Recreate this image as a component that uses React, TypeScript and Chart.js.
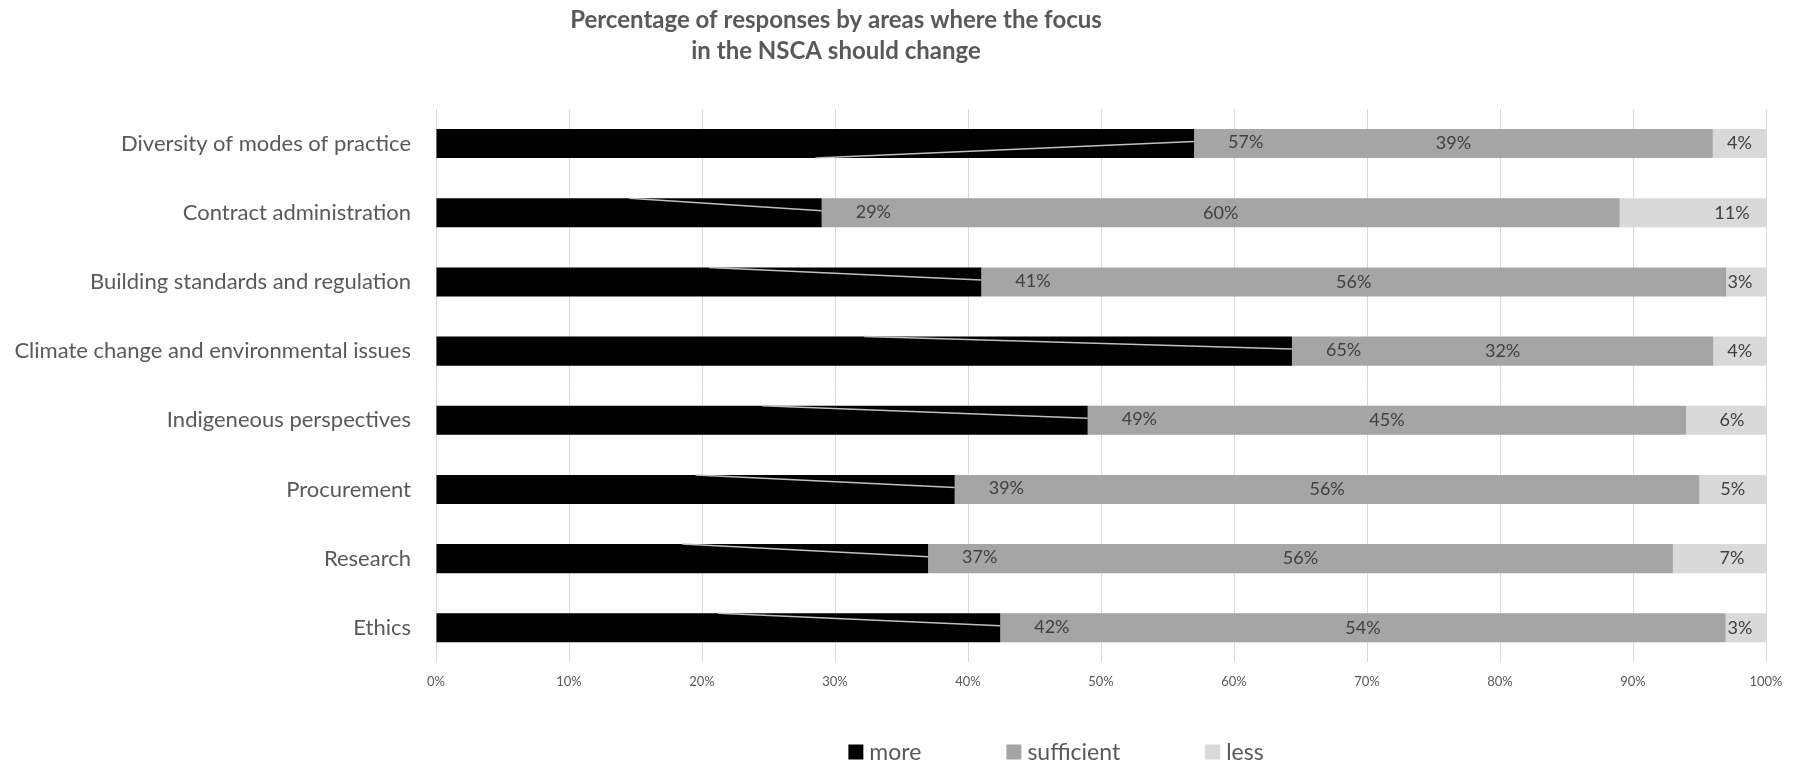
import React, { useEffect, useRef } from "react";
import { Chart, registerables } from "chart.js";

Chart.register(...registerables);

// Survey areas, top to bottom
const categories = [
  "Diversity of modes of practice",
  "Contract administration",
  "Building standards and regulation",
  "Climate change and environmental issues",
  "Indigeneous perspectives",
  "Procurement",
  "Research",
  "Ethics",
];

// Share of responses (%) per area
const moreValues = [57, 29, 41, 65, 49, 39, 37, 42];
const sufficientValues = [39, 60, 56, 32, 45, 56, 56, 54];
const lessValues = [4, 11, 3, 4, 6, 5, 7, 3];

const seriesLabels = ["more", "sufficient", "less"];
const seriesColors = ["#000000", "#A5A5A5", "#D9D9D9"];

const titleLines = [
  "Percentage of responses by areas where the focus",
  "in the NSCA should change",
];

const xTickStep = 10;

// Leader lines of the "more" labels end on the bar's top edge, except the first row
const leaderToBottom = [true, false, false, false, false, false, false, false];

const FONT = "Lato, 'Open Sans', sans-serif";
const TEXT = "#595959";
const LABEL = "#404040";
const GRID = "#D9D9D9";

const W = 1796;
const H = 763;

const titlePlugin = {
  id: "chartTitle",
  afterDraw(chart: any) {
    const { ctx } = chart;
    ctx.save();
    ctx.font = `bold 24px ${FONT}`;
    ctx.fillStyle = TEXT;
    ctx.textAlign = "center";
    ctx.textBaseline = "middle";
    titleLines.forEach((line, i) => ctx.fillText(line, 836, 20 + i * 31));
    ctx.restore();
  },
};

const valueLabelPlugin = {
  id: "valueLabels",
  afterDatasetsDraw(chart: any) {
    const { ctx } = chart;
    const raw = [moreValues, sufficientValues, lessValues];
    ctx.save();
    ctx.font = `18px ${FONT}`;
    ctx.fillStyle = LABEL;
    ctx.textBaseline = "middle";
    categories.forEach((_, i) => {
      const more = chart.getDatasetMeta(0).data[i] as any;
      const suff = chart.getDatasetMeta(1).data[i] as any;
      const less = chart.getDatasetMeta(2).data[i] as any;

      // "more": label sits past the bar end with a leader line back to the segment
      const mid = (more.x + more.base) / 2;
      const edge = leaderToBottom[i] ? more.y + more.height / 2 : more.y - more.height / 2;
      ctx.save();
      ctx.strokeStyle = "#BFBFBF";
      ctx.lineWidth = 1.5;
      ctx.beginPath();
      ctx.moveTo(more.x, more.y - 2);
      ctx.lineTo(mid, edge);
      ctx.stroke();
      ctx.restore();
      ctx.textAlign = "left";
      ctx.fillText(`${raw[0][i]}%`, more.x + 34, more.y - 1);

      // "sufficient": centred in its segment
      ctx.textAlign = "center";
      ctx.fillText(`${raw[1][i]}%`, (suff.x + suff.base) / 2, suff.y);

      // "less": near the end of the bar
      const c = (less.x + less.base) / 2;
      const lx = Math.min(Math.max(c, less.x - 34), less.x - 26);
      ctx.fillText(`${raw[2][i]}%`, lx, less.y);
    });
    ctx.restore();
  },
};

const legendPlugin = {
  id: "bottomLegend",
  afterDraw(chart: any) {
    const { ctx } = chart;
    const box = 15;
    const gap = 6;
    const spacing = 85;
    ctx.save();
    ctx.font = `23px ${FONT}`;
    ctx.textBaseline = "middle";
    ctx.textAlign = "left";
    const items = chart.data.datasets.map((ds: any) => ({
      text: ds.label,
      color: ds.backgroundColor,
      w: box + gap + ctx.measureText(ds.label).width,
    }));
    const total = items.reduce((s: number, it: any) => s + it.w, 0) + spacing * (items.length - 1);
    let x = 1056 - total / 2;
    const cy = 752;
    items.forEach((it: any) => {
      ctx.fillStyle = it.color;
      ctx.fillRect(x, cy - box / 2, box, box);
      ctx.fillStyle = TEXT;
      ctx.fillText(it.text, x + box + gap, cy + 1);
      x += it.w + spacing;
    });
    ctx.restore();
  },
};

export default function App() {
  const canvasRef = useRef<HTMLCanvasElement | null>(null);

  useEffect(() => {
    document.body.style.margin = "0";
    document.body.style.overflow = "hidden";
    const canvas = canvasRef.current;
    if (!canvas) return;

    const raw = [moreValues, sufficientValues, lessValues];
    const totals = categories.map((_, i) => moreValues[i] + sufficientValues[i] + lessValues[i]);

    const chart = new Chart(canvas, {
      type: "bar",
      data: {
        labels: categories,
        datasets: raw.map((vals, k) => ({
          label: seriesLabels[k],
          data: vals.map((v, i) => (v / totals[i]) * 100),
          backgroundColor: seriesColors[k],
          borderWidth: 0,
          barPercentage: 0.42,
          categoryPercentage: 1,
        })),
      },
      options: {
        indexAxis: "y",
        responsive: false,
        animation: false,
        events: [],
        layout: { padding: { top: 109, right: 30, bottom: 61, left: 0 } },
        plugins: {
          legend: { display: false },
          title: { display: false },
          tooltip: { enabled: false },
        },
        scales: {
          x: {
            stacked: true,
            min: 0,
            max: 100,
            ticks: {
              stepSize: xTickStep,
              callback: (v: any) => `${v}%`,
              color: TEXT,
              font: { family: FONT, size: 13 },
              padding: 12,
              maxRotation: 0,
            },
            grid: { color: GRID, lineWidth: 1, drawTicks: false },
            border: { display: false },
          },
          y: {
            stacked: true,
            ticks: {
              color: TEXT,
              font: { family: FONT, size: 22 },
              padding: 25,
            },
            grid: { display: false, drawTicks: false },
            border: { display: false },
            afterFit: (scale: any) => {
              scale.width = 436;
            },
          },
        },
      } as any,
      plugins: [titlePlugin, valueLabelPlugin, legendPlugin],
    });

    return () => chart.destroy();
  }, []);

  return <canvas ref={canvasRef} width={W} height={H} style={{ display: "block" }} />;
}
